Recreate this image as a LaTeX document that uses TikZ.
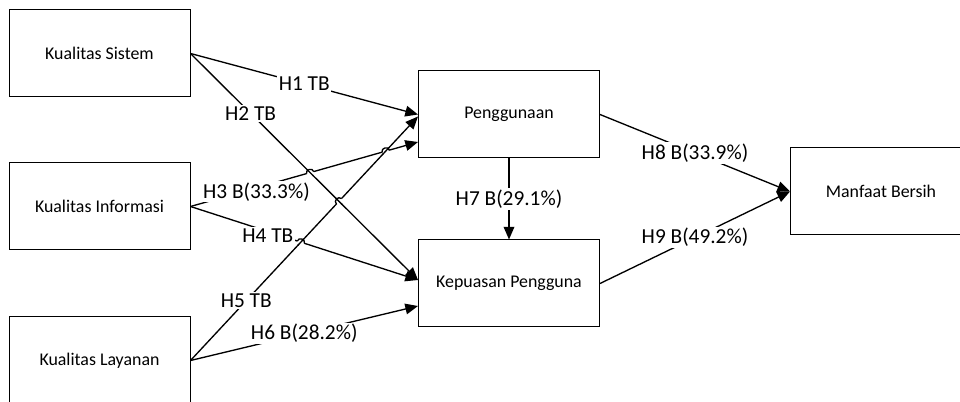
\documentclass[tikz,border=0pt]{standalone}
\usepackage{fontspec}
\setmainfont{Carlito}
\usetikzlibrary{arrows.meta,calc,intersections}

% line #1 hops over line #2 (#3,#4: ends of #1; #5,#6: ends of #2)
\newcommand{\hopover}[6]{%
  \path[name intersections={of=#1 and #2,by=hx}];
  \fill[white] (hx) circle (2.8pt);
  \draw[line width=1pt] ($(hx)!3.4pt!(#5)$) -- ($(hx)!3.4pt!(#6)$);
  \draw[line width=1pt] ($(hx)!2.8pt!(#3)$) to[bend left=90,looseness=1.5] ($(hx)!2.8pt!(#4)$);
}

\begin{document}
\begin{tikzpicture}[x=0.75pt,y=-0.75pt,
  box/.style={draw,line width=0.75pt,minimum width=135.75pt,minimum height=65.25pt,
    inner sep=0pt,font=\fontsize{13.4}{15}\selectfont},
  link/.style={line width=1pt,-{Triangle[length=9.5pt,width=8pt]}},
  hyp/.style={fill=white,inner sep=1pt,font=\fontsize{16}{18}\selectfont}]
  \useasboundingbox (0,0) rectangle (960,402);
  \clip (0,0) rectangle (960,402);
  % independent variables
  \node[box] (sys) at (99.5,53.5) {Kualitas Sistem};
  \node[box] (inf) at (99.5,206.5) {Kualitas Informasi};
  \node[box] (lay) at (99.5,360.5) {Kualitas Layanan};
  % mediators and outcome
  \node[box] (pgn) at (509,114.5) {Penggunaan};
  \node[box] (kep) at (509,283.5) {Kepuasan Pengguna};
  \node[box] (mfb) at (881,191.5) {Manfaat Bersih};
  \coordinate (pgnH) at ($(pgn.west)+(0,2)$);
  \coordinate (pgnL) at ($(pgn.west)+(0,27.5)$);
  \coordinate (kepH) at ($(kep.west)+(0,-3.5)$);
  \coordinate (kepL) at ($(kep.west)+(0,22.5)$);
  % hypotheses
  \draw[link] (sys.east) -- node[hyp,pos=0.5] {H1 TB} (pgn.west);
  \draw[link,name path=h2] (sys.east) -- node[hyp,pos=0.264] {H2 TB} (kepH);
  \draw[link,name path=h3] (inf.east) -- node[hyp,pos=0.29,yshift=-3pt] {H3 B(33.3\%)} (pgnL);
  \draw[link,name path=h4] (inf.east) -- node[hyp,pos=0.34,yshift=-3pt] {H4 TB} (kepH);
  \draw[link,name path=h5] (lay.east) -- node[hyp,pos=0.245] {H5 TB} (pgnH);
  \draw[link] (lay.east) -- node[hyp,pos=0.5] {H6 B(28.2\%)} (kepL);
  \draw[link] (pgn.south) -- node[hyp] {H7 B(29.1\%)} (kep.north);
  \draw[link] (pgn.east) -- node[hyp] {H8 B(33.9\%)} (mfb.west);
  \draw[link] (kep.east) -- node[hyp] {H9 B(49.2\%)} (mfb.west);
  % line hops
  \hopover{h3}{h2}{inf.east}{pgnL}{sys.east}{kepH}
  \hopover{h3}{h5}{inf.east}{pgnL}{lay.east}{pgnH}
  \hopover{h5}{h2}{lay.east}{pgnH}{sys.east}{kepH}
  \hopover{h4}{h5}{inf.east}{kepH}{lay.east}{pgnH}
\end{tikzpicture}
\end{document}
